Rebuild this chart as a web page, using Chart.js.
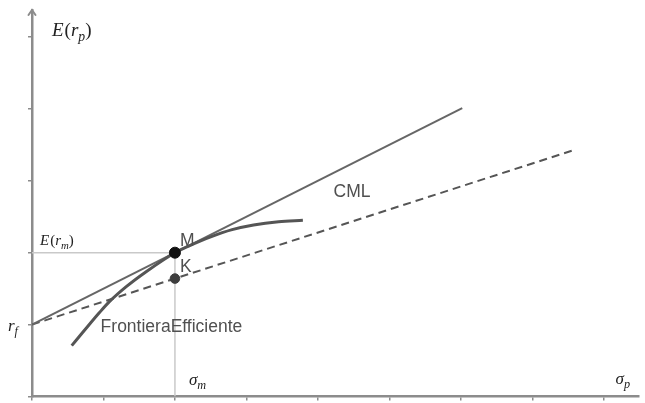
<!DOCTYPE html>
<html>
<head>
<meta charset="utf-8">
<script src="https://cdn.jsdelivr.net/npm/chart.js@4.4.1/dist/chart.umd.min.js"></script>
<style>
  html, body { margin: 0; padding: 0; background: #ffffff; }
  canvas { display: block; }
</style>
</head>
<body>
<canvas id="c" width="645" height="403"></canvas>
<script>
// Efficient frontier (risk sigma, expected return)
const frontierSigma  = [0.556, 0.708, 0.944, 1.083, 1.319, 1.597, 2.0, 2.2, 2.5, 2.8, 3.1, 3.45, 3.79];
const frontierReturn = [0.708, 0.889, 1.167, 1.319, 1.528, 1.736, 2.0, 2.095, 2.22, 2.32, 2.385, 2.43, 2.45];

// Capital Market Line from the risk-free rate through M
const cmlSigma  = [0, 6.02];
const cmlReturn = [1, 4.01];

// Line from the risk-free rate through portfolio K
const kLineSigma  = [0, 7.56];
const kLineReturn = [1, 3.42];

// Market portfolio M and portfolio K
const pointNames  = ['M', 'K'];
const pointSigma  = [2, 2];
const pointReturn = [2, 1.64];

const riskFree = 1;
const xTickStep = 1;
const yTickStep = 1;

const toXY = (xs, ys) => xs.map((x, i) => ({ x: x, y: ys[i] }));

const INK = '#555555';
const GUIDE = '#c9c9c9';
const AXIS = '#8c8c8c';

// axis arrow, math labels and text labels
const decorations = {
  id: 'decorations',
  afterDatasetsDraw(chart) {
    const ctx = chart.ctx;
    const xs = chart.scales.x, ys = chart.scales.y;
    const area = chart.chartArea;
    ctx.save();

    // arrow at the top of the vertical axis
    ctx.strokeStyle = AXIS;
    ctx.lineWidth = 2;
    ctx.lineCap = 'round';
    ctx.beginPath();
    ctx.moveTo(area.left - 3.5, area.top + 5);
    ctx.lineTo(area.left, area.top);
    ctx.lineTo(area.left + 3.5, area.top + 5);
    ctx.stroke();

    // math-style labels: base letters plus optional subscript
    const math = (x, y, size, parts) => {
      let cx = x;
      parts.forEach(p => {
        const fs = p.sub ? size * 0.72 : size;
        ctx.font = (p.upright ? '' : 'italic ') + fs + 'px "Liberation Serif", serif';
        ctx.fillStyle = '#222222';
        ctx.textBaseline = 'alphabetic';
        ctx.fillText(p.t, cx, y + (p.sub ? size * 0.28 : 0));
        cx += ctx.measureText(p.t).width + (p.gap || 0);
      });
    };

    const mx = xs.getPixelForValue(pointSigma[0]);
    const my = ys.getPixelForValue(pointReturn[0]);
    const rfY = ys.getPixelForValue(riskFree);

    math(area.left + 20, area.top + 26, 19, [
      { t: 'E', gap: 1 }, { t: '(', upright: true }, { t: 'r' }, { t: 'p', sub: true }, { t: ')', upright: true }
    ]);
    math(area.left + 8, my - 8, 15, [
      { t: 'E', gap: 1 }, { t: '(', upright: true }, { t: 'r' }, { t: 'm', sub: true }, { t: ')', upright: true }
    ]);
    math(8, rfY + 6, 17, [{ t: 'r' }, { t: 'f', sub: true }]);
    math(mx + 14, area.bottom - 12, 17, [{ t: 'σ' }, { t: 'm', sub: true }]);
    math(area.right - 23, area.bottom - 13, 17, [{ t: 'σ' }, { t: 'p', sub: true }]);

    // sans-serif labels
    ctx.font = '17.5px "Liberation Sans", Arial, sans-serif';
    ctx.fillStyle = '#505050';
    ctx.textBaseline = 'alphabetic';
    pointNames.forEach((n, i) => {
      ctx.fillText(n, xs.getPixelForValue(pointSigma[i]) + 5, ys.getPixelForValue(pointReturn[i]) - 7);
    });
    ctx.fillText('CML', xs.getPixelForValue(4.22), ys.getPixelForValue(2.78));
    ctx.fillText('FrontieraEfficiente', xs.getPixelForValue(0.96), ys.getPixelForValue(0.9));

    ctx.restore();
  }
};

const lineDs = (data, color, width, order, extra) => Object.assign({
  data: data,
  order: order,
  showLine: true,
  borderColor: color,
  backgroundColor: color,
  borderWidth: width,
  pointRadius: 0,
  pointHoverRadius: 0,
  fill: false
}, extra || {});

const pointDs = (i, color, radius) => ({
  data: [{ x: pointSigma[i], y: pointReturn[i] }],
  order: 0,
  showLine: false,
  pointRadius: radius,
  pointBackgroundColor: color,
  pointBorderColor: color,
  pointBorderWidth: 1,
  pointHoverRadius: radius
});

new Chart(document.getElementById('c'), {
  type: 'scatter',
  data: {
    datasets: [
      // portfolios M and K (drawn on top)
      pointDs(0, '#111111', 5.5),
      pointDs(1, '#3d3d3d', 4.8),
      // efficient frontier
      lineDs(toXY(frontierSigma, frontierReturn), INK, 3, 1, { cubicInterpolationMode: 'monotone' }),
      // CML
      lineDs(toXY(cmlSigma, cmlReturn), '#666666', 2, 2),
      // dashed line through K
      lineDs(toXY(kLineSigma, kLineReturn), INK, 2, 3, { borderDash: [8, 5] }),
      // guides to E(r_m) and sigma_m
      lineDs(toXY([0, pointSigma[0]], [pointReturn[0], pointReturn[0]]), GUIDE, 1.5, 4),
      lineDs(toXY([pointSigma[0], pointSigma[0]], [0, pointReturn[0]]), GUIDE, 1.5, 4)
    ]
  },
  options: {
    responsive: false,
    animation: false,
    devicePixelRatio: 1,
    layout: { padding: { top: 10, right: 2, left: 0, bottom: 0 } },
    plugins: {
      legend: { display: false },
      tooltip: { enabled: false }
    },
    scales: {
      x: {
        type: 'linear',
        min: 0,
        max: 611 / 72,
        border: { display: true, color: AXIS, width: 2.5 },
        grid: { display: true, drawOnChartArea: false, drawTicks: true, tickLength: 4, color: AXIS, lineWidth: 1.5 },
        ticks: { display: false, stepSize: xTickStep, includeBounds: false },
        afterFit: s => { s.height = 6; }
      },
      y: {
        type: 'linear',
        min: 0,
        max: 387 / 72,
        border: { display: true, color: AXIS, width: 2.5 },
        grid: { display: true, drawOnChartArea: false, drawTicks: true, tickLength: 4, color: AXIS, lineWidth: 1.5 },
        ticks: { display: false, stepSize: yTickStep, includeBounds: false },
        afterFit: s => { s.width = 32; }
      }
    }
  },
  plugins: [decorations]
});
</script>
</body>
</html>
